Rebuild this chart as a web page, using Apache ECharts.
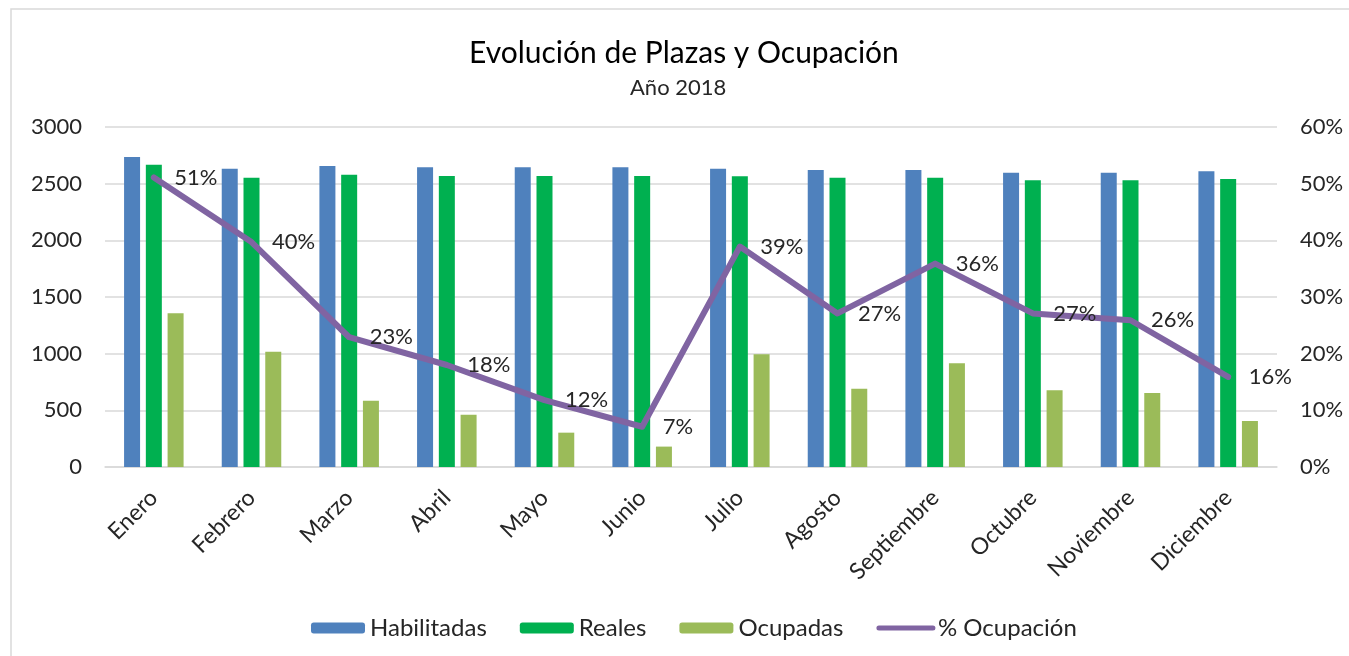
<!DOCTYPE html>
<html>
<head>
<meta charset="utf-8">
<script src="https://cdn.jsdelivr.net/npm/echarts@6/dist/echarts.min.js"></script>
<style>
  html, body { margin: 0; padding: 0; background: #fff; }
  #chart { width: 1349px; height: 656px; }
</style>
</head>
<body>
<div id="chart"></div>
<script>
var meses = ['Enero', 'Febrero', 'Marzo', 'Abril', 'Mayo', 'Junio', 'Julio', 'Agosto', 'Septiembre', 'Octubre', 'Noviembre', 'Diciembre']
var habilitadas = [2735, 2632, 2656, 2644, 2644, 2644, 2632, 2621, 2621, 2597, 2597, 2609]
var reales = [2668, 2553, 2579, 2568, 2568, 2568, 2565, 2553, 2553, 2530, 2530, 2541]
var ocupadas = [1356, 1018, 585, 462, 303, 180, 994, 691, 915, 677, 653, 406]
var ocupacion = [0.511, 0.397, 0.229, 0.18, 0.118, 0.071, 0.389, 0.271, 0.359, 0.271, 0.259, 0.159]

var font = 'Lato'
var txt = '#262626'
var purple = '#8064a2'

var chart = echarts.init(document.getElementById('chart'))
var option = {
  animation: false,
  textStyle: { fontFamily: font },
  graphic: [{
    type: 'rect',
    shape: { x: 11, y: 9, width: 1400, height: 700 },
    style: { fill: 'none', stroke: '#d9d9d9', lineWidth: 1.5 },
    silent: true
  }],
  title: [{
    text: 'Evolución de Plazas y Ocupación',
    left: 464,
    top: 33,
    textStyle: { fontFamily: font, fontSize: 30, fontWeight: 'normal', color: '#000' }
  }, {
    text: 'Año 2018',
    left: 625,
    top: 72,
    textStyle: { fontFamily: font, fontSize: 22, fontWeight: 'normal', color: txt }
  }],
  legend: {
    left: 306,
    top: 611,
    itemWidth: 54,
    itemHeight: 11,
    itemGap: 33,
    textStyle: { fontFamily: font, fontSize: 24, color: txt },
    data: [
      'Habilitadas', 'Reales', 'Ocupadas',
      { name: '% Ocupación', itemStyle: { opacity: 0 }, lineStyle: { width: 5, color: purple, cap: 'round' } }
    ]
  },
  grid: { left: 105, right: 72, top: 127, bottom: 189 },
  xAxis: {
    type: 'category',
    data: meses,
    axisLine: { lineStyle: { color: '#d9d9d9', width: 1.5 } },
    axisTick: { show: false },
    axisLabel: { rotate: 45, margin: 27, fontSize: 23, color: txt, fontFamily: font, interval: 0 }
  },
  yAxis: [{
    type: 'value',
    min: 0,
    max: 3000,
    interval: 500,
    axisLine: { show: false },
    axisTick: { show: false },
    axisLabel: {
      margin: 23, fontSize: 22, color: txt, fontFamily: font,
      formatter: function (v) { return String(v) }
    },
    splitLine: { lineStyle: { color: '#d9d9d9', width: 1.5 } }
  }, {
    type: 'value',
    min: 0,
    max: 0.6,
    interval: 0.1,
    axisLine: { show: false },
    axisTick: { show: false },
    splitLine: { show: false },
    axisLabel: {
      margin: 23, fontSize: 22, color: txt, fontFamily: font,
      formatter: function (v) { return Math.round(v * 100) + '%' }
    }
  }],
  series: [
    {
      name: 'Habilitadas',
      type: 'bar',
      barWidth: 16,
      barGap: '36%',
      itemStyle: { color: '#4f81bd' },
      data: habilitadas
    },
    {
      name: 'Reales',
      type: 'bar',
      barWidth: 16,
      barGap: '36%',
      itemStyle: { color: '#00b050' },
      data: reales
    },
    {
      name: 'Ocupadas',
      type: 'bar',
      barWidth: 16,
      barGap: '36%',
      itemStyle: { color: '#9bbb59' },
      data: ocupadas
    },
    {
      name: '% Ocupación',
      type: 'line',
      yAxisIndex: 1,
      symbol: 'circle',
      symbolSize: 5,
      z: 5,
      lineStyle: { color: purple, width: 6, cap: 'round', join: 'round' },
      itemStyle: { color: purple },
      label: {
        show: true,
        position: 'right',
        distance: 18,
        fontSize: 22,
        color: txt,
        fontFamily: font,
        formatter: function (p) { return Math.round(p.value * 100) + '%' }
      },
      data: ocupacion
    }
  ]
}
chart.setOption(option)
</script>
</body>
</html>
